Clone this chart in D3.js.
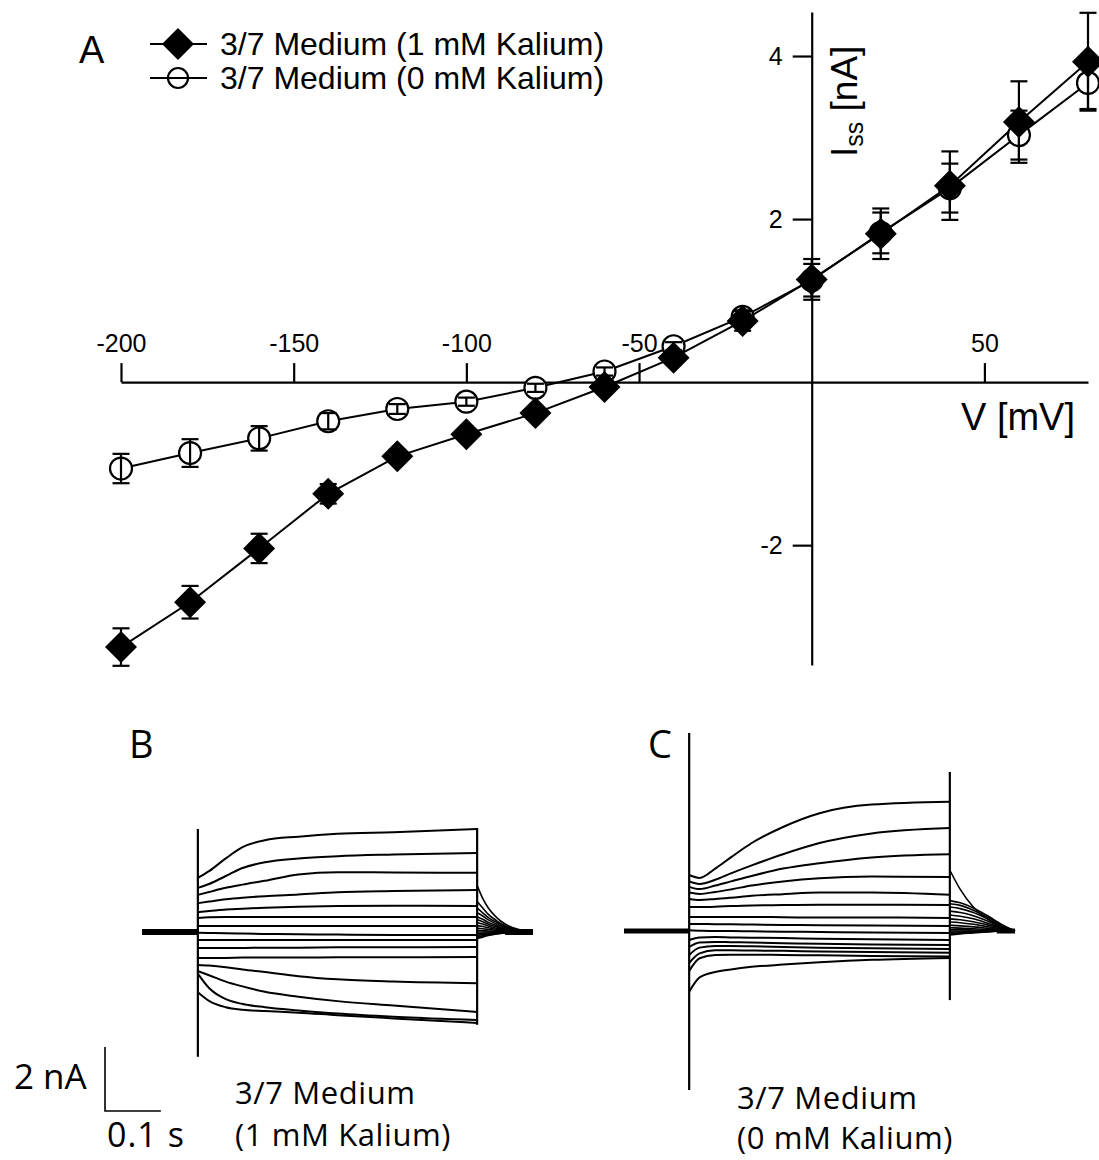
<!DOCTYPE html>
<html>
<head>
<meta charset="utf-8">
<script src="https://cdn.jsdelivr.net/npm/d3@7"></script>
<style>
  body { margin: 0; background: #fff; }
  svg { display: block; }
</style>
</head>
<body>
<svg width="1099" height="1160"></svg>
<script>
// ---- panel A: steady state I/V ----
const voltages = [-200, -180, -160, -140, -120, -100, -80, -60, -40, -20, 0, 20, 40, 60, 80];
const iss1mM = [-3.25, -2.70, -2.04, -1.37, -0.91, -0.64, -0.38, -0.06, 0.30, 0.75, 1.26, 1.82, 2.41, 3.19, 3.93];
const err1mM = [0.23, 0.20, 0.18, 0.12, 0.08, 0.06, 0.06, 0.06, 0.08, 0.12, 0.25, 0.31, 0.42, 0.50, 0.60];
const iss0mM = [-1.06, -0.87, -0.69, -0.48, -0.33, -0.24, -0.07, 0.13, 0.44, 0.80, 1.25, 1.83, 2.38, 3.03, 3.67];
const err0mM = [0.18, 0.17, 0.15, 0.10, 0.06, 0.05, 0.05, 0.05, 0.05, 0.08, 0.20, 0.25, 0.30, 0.30, 0.32];
const xTicksA = [-200, -150, -100, -50, 50];
const yTicksA = [-2, 2, 4];
const legendLabels = ["3/7 Medium (1 mM Kalium)", "3/7 Medium (0 mM Kalium)"];

// ---- panels B and C: current traces (nA) ----
const pulseT = [0, 0.02, 0.05, 0.08, 0.12, 0.18, 0.25, 0.35, 0.5];
const tracesB = [
  [1.69, 1.90, 2.30, 2.65, 2.87, 2.98, 3.07, 3.12, 3.22],
  [1.38, 1.50, 1.75, 2.00, 2.18, 2.30, 2.37, 2.42, 2.47],
  [1.16, 1.25, 1.38, 1.48, 1.60, 1.80, 1.87, 1.86, 1.85],
  [0.90, 0.95, 1.02, 1.07, 1.12, 1.17, 1.24, 1.28, 1.31],
  [0.62, 0.66, 0.70, 0.73, 0.76, 0.79, 0.81, 0.82, 0.81],
  [0.44, 0.46, 0.47, 0.47, 0.47, 0.47, 0.47, 0.47, 0.47],
  [0.19, 0.19, 0.19, 0.19, 0.19, 0.19, 0.19, 0.19, 0.19],
  [-0.02, -0.03, -0.04, -0.05, -0.06, -0.07, -0.08, -0.09, -0.09],
  [-0.25, -0.25, -0.25, -0.25, -0.25, -0.25, -0.25, -0.25, -0.25],
  [-0.50, -0.50, -0.50, -0.50, -0.49, -0.49, -0.48, -0.48, -0.47],
  [-0.81, -0.81, -0.81, -0.80, -0.80, -0.80, -0.79, -0.79, -0.78],
  [-1.03, -1.05, -1.10, -1.17, -1.25, -1.38, -1.48, -1.55, -1.60],
  [-1.22, -1.35, -1.55, -1.70, -1.87, -2.02, -2.16, -2.30, -2.50],
  [-1.30, -1.75, -2.10, -2.25, -2.35, -2.45, -2.55, -2.65, -2.75],
  [-1.88, -2.15, -2.35, -2.43, -2.47, -2.52, -2.60, -2.70, -2.84]
];
const tailTB = [0.5, 0.51, 0.52, 0.535, 0.55, 0.575, 0.6];
const tailsB = [
  [1.45, 1.05, 0.75, 0.45, 0.25, 0.08, 0],
  [0.95, 0.75, 0.55, 0.35, 0.20, 0.06, 0],
  [0.75, 0.60, 0.45, 0.30, 0.17, 0.05, 0],
  [0.60, 0.50, 0.38, 0.25, 0.14, 0.04, 0],
  [0.48, 0.40, 0.30, 0.20, 0.11, 0.03, 0],
  [0.38, 0.32, 0.24, 0.16, 0.09, 0.03, 0],
  [0.30, 0.25, 0.19, 0.12, 0.07, 0.02, 0],
  [0.20, 0.17, 0.13, 0.08, 0.05, 0.01, 0],
  [0.12, 0.10, 0.08, 0.05, 0.03, 0.01, 0],
  [0.05, 0.04, 0.03, 0.02, 0.01, 0, 0],
  [0, 0, 0, 0, 0, 0, 0],
  [-0.05, -0.04, -0.03, -0.02, -0.01, 0, 0],
  [-0.10, -0.08, -0.06, -0.04, -0.02, 0, 0],
  [-0.15, -0.12, -0.09, -0.05, -0.03, 0, 0],
  [-0.20, -0.16, -0.11, -0.06, -0.03, 0, 0]
];
const spikesB = [[0, 3.22, -3.9], [0.5, 3.25, -2.9]];
const baseSegB = [[-0.1, 0], [0.55, 0.6]];

const tracesC = [
  [1.75, 1.66, 1.95, 2.30, 2.75, 3.25, 3.68, 3.95, 4.04],
  [1.55, 1.47, 1.60, 1.80, 2.05, 2.40, 2.75, 3.05, 3.22],
  [1.38, 1.31, 1.42, 1.55, 1.72, 1.95, 2.12, 2.30, 2.40],
  [1.20, 1.16, 1.22, 1.30, 1.42, 1.55, 1.65, 1.70, 1.69],
  [1.00, 0.97, 1.00, 1.04, 1.10, 1.15, 1.20, 1.20, 1.13],
  [0.75, 0.75, 0.76, 0.78, 0.80, 0.81, 0.82, 0.82, 0.81],
  [0.44, 0.44, 0.44, 0.44, 0.44, 0.43, 0.42, 0.42, 0.41],
  [0.22, 0.22, 0.21, 0.21, 0.20, 0.19, 0.18, 0.17, 0.16],
  [0.02, 0.01, 0.00, 0.00, -0.01, -0.02, -0.03, -0.05, -0.06],
  [-0.28, -0.20, -0.19, -0.20, -0.21, -0.22, -0.24, -0.26, -0.28],
  [-0.50, -0.36, -0.34, -0.35, -0.36, -0.38, -0.40, -0.42, -0.44],
  [-0.75, -0.52, -0.47, -0.47, -0.48, -0.50, -0.52, -0.54, -0.56],
  [-1.00, -0.70, -0.60, -0.60, -0.61, -0.62, -0.64, -0.66, -0.68],
  [-1.25, -0.85, -0.75, -0.74, -0.74, -0.75, -0.76, -0.78, -0.80],
  [-1.90, -1.45, -1.28, -1.20, -1.12, -1.05, -0.98, -0.90, -0.84]
];
const tailTC = [0.5, 0.52, 0.545, 0.57, 0.6, 0.625];
const tailsC = [
  [1.90, 1.30, 0.75, 0.40, 0.12, 0],
  [0.95, 0.88, 0.72, 0.50, 0.20, 0],
  [0.85, 0.80, 0.65, 0.45, 0.18, 0],
  [0.75, 0.70, 0.58, 0.40, 0.15, 0],
  [0.62, 0.58, 0.48, 0.33, 0.12, 0],
  [0.50, 0.46, 0.38, 0.26, 0.10, 0],
  [0.38, 0.35, 0.29, 0.20, 0.08, 0],
  [0.28, 0.26, 0.21, 0.14, 0.06, 0],
  [0.18, 0.16, 0.13, 0.09, 0.04, 0],
  [0.10, 0.09, 0.07, 0.05, 0.02, 0],
  [0.04, 0.04, 0.03, 0.02, 0.01, 0],
  [0, 0, 0, 0, 0, 0],
  [-0.04, -0.03, -0.02, -0.01, 0, 0],
  [-0.08, -0.06, -0.04, -0.02, 0, 0],
  [-0.12, -0.09, -0.06, -0.03, 0, 0]
];
const spikesC = [[0, 6.19, -4.97], [0.5, 4.97, -2.16]];
const baseSegC = [[-0.125, 0], [0.59, 0.625]];

const scaleBar = { nA: 2, s: 0.1 };

const svg = d3.select("svg");
const fontA = "'Liberation Sans', Arial, sans-serif";
const fontB = "'Open Sans', sans-serif";

// ================= panel A =================
const x = d3.scaleLinear().domain([-200, 80]).range([121, 1088]);
const y = d3.scaleLinear().domain([-3.47, 4.54]).range([665, 12]);
const gA = svg.append("g");

const xAx = gA.append("g")
  .attr("transform", "translate(0," + y(0) + ")")
  .call(d3.axisTop(x).tickValues(xTicksA).tickSize(19).tickSizeOuter(0).tickPadding(11).tickFormat(d => String(d)));
const yAx = gA.append("g")
  .attr("transform", "translate(" + x(0) + ",0)")
  .call(d3.axisLeft(y).tickValues(yTicksA).tickSize(19).tickSizeOuter(0).tickPadding(10).tickFormat(d => String(d)));
[xAx, yAx].forEach(ax => {
  ax.selectAll("path, line").attr("stroke", "#000").attr("stroke-width", 2.2);
  ax.selectAll("text").attr("font-family", fontA).attr("font-size", 25).attr("fill", "#000");
});

gA.append("text").attr("x", 961).attr("y", 430)
  .attr("font-family", fontA).attr("font-size", 38).text("V [mV]");
const yl = gA.append("text").attr("transform", "translate(857,157) rotate(-90)")
  .attr("font-family", fontA).attr("font-size", 37);
yl.append("tspan").text("I");
yl.append("tspan").attr("dy", 6).attr("font-size", 25).text("ss");
yl.append("tspan").attr("dy", -6).text(" [nA]");

const lineA = d3.line().x((d, i) => x(voltages[i])).y(d => y(d));
gA.append("path").datum(iss0mM).attr("d", lineA)
  .attr("fill", "none").attr("stroke", "#000").attr("stroke-width", 2);
gA.append("path").datum(iss1mM).attr("d", lineA)
  .attr("fill", "none").attr("stroke", "#000").attr("stroke-width", 2);

const diamond = d3.symbol(d3.symbolSquare, 512);
const cap = 8.5;

function errorBars(g, vals, errs) {
  const eb = g.append("g").attr("stroke", "#000").attr("stroke-width", 2.2);
  vals.forEach((v, i) => {
    const cx = x(voltages[i]);
    eb.append("line").attr("x1", cx).attr("x2", cx).attr("y1", y(v - errs[i])).attr("y2", y(v + errs[i]));
    eb.append("line").attr("x1", cx - cap).attr("x2", cx + cap).attr("y1", y(v - errs[i])).attr("y2", y(v - errs[i]));
    eb.append("line").attr("x1", cx - cap).attr("x2", cx + cap).attr("y1", y(v + errs[i])).attr("y2", y(v + errs[i]));
  });
}

// open circles (0 mM)
gA.append("g").selectAll("circle").data(iss0mM).join("circle")
  .attr("cx", (d, i) => x(voltages[i])).attr("cy", d => y(d)).attr("r", 11)
  .attr("fill", "#fff").attr("stroke", "#000").attr("stroke-width", 2.2);
errorBars(gA, iss0mM, err0mM);

// filled diamonds (1 mM)
errorBars(gA, iss1mM, err1mM);
gA.append("g").selectAll("path").data(iss1mM).join("path")
  .attr("d", diamond)
  .attr("transform", (d, i) => "translate(" + x(voltages[i]) + "," + y(d) + ") rotate(45)")
  .attr("fill", "#000");

// legend
gA.append("text").attr("x", 79).attr("y", 63).attr("font-family", fontA).attr("font-size", 38).text("A");
const lg = gA.append("g").attr("transform", "translate(150,44)");
legendLabels.forEach((lab, i) => {
  const r = lg.append("g").attr("transform", "translate(0," + i * 34 + ")");
  r.append("line").attr("x1", 0).attr("x2", 57).attr("stroke", "#000").attr("stroke-width", 2);
  if (i === 0) {
    r.append("path").attr("d", diamond).attr("transform", "translate(28,0) rotate(45)").attr("fill", "#000");
  } else {
    r.append("circle").attr("cx", 28).attr("r", 10).attr("fill", "none").attr("stroke", "#000").attr("stroke-width", 2.2);
  }
  r.append("text").attr("x", 70).attr("y", 11).attr("font-family", fontA).attr("font-size", 32).text(lab);
});

// ================= panels B and C =================
function tracePanel(xs, ys, traces, tailT, tails, spikes, baseSeg, baseW) {
  const g = svg.append("g").attr("fill", "none").attr("stroke", "#000");
  const ln = d3.line().curve(d3.curveMonotoneX).x(d => xs(d[0])).y(d => ys(d[1]));
  traces.forEach(tr => {
    g.append("path").attr("d", ln(pulseT.map((t, i) => [t, tr[i]]))).attr("stroke-width", 2);
  });
  tails.forEach(tl => {
    g.append("path").attr("d", ln(tailT.map((t, i) => [t, tl[i]]))).attr("stroke-width", 1.6);
  });
  baseSeg.forEach(s => {
    g.append("line").attr("x1", xs(s[0])).attr("x2", xs(s[1])).attr("y1", ys(0)).attr("y2", ys(0))
      .attr("stroke-width", baseW);
  });
  spikes.forEach(s => {
    g.append("line").attr("x1", xs(s[0])).attr("x2", xs(s[0])).attr("y1", ys(s[1])).attr("y2", ys(s[2]))
      .attr("stroke-width", 2.2);
  });
}

const xB = d3.scaleLinear().domain([-0.1, 0.6]).range([142, 533]);
const yB = d3.scaleLinear().domain([0, 1]).range([932, 900]);
tracePanel(xB, yB, tracesB, tailTB, tailsB, spikesB, baseSegB, 6);

const xC = d3.scaleLinear().domain([-0.125, 0.625]).range([624, 1015]);
const yC = d3.scaleLinear().domain([0, 1]).range([931, 899]);
tracePanel(xC, yC, tracesC, tailTC, tailsC, spikesC, baseSegC, 5);

// scale bar (uses panel B scales)
const sbx = 105, sby = 1111;
const sbH = yB(0) - yB(scaleBar.nA), sbW = xB(scaleBar.s) - xB(0);
svg.append("path").attr("d", "M" + sbx + "," + (sby - sbH) + "V" + sby + "H" + (sbx + sbW))
  .attr("fill", "none").attr("stroke", "#000").attr("stroke-width", 1.6);

const txt = (tx, ty, s, size, ls) => svg.append("text").attr("x", tx).attr("y", ty)
  .attr("font-family", fontB).attr("font-size", size).attr("letter-spacing", ls || 0)
  .attr("fill", "#000").text(s);
txt(129, 758, "B", 38);
txt(648, 758, "C", 38);
txt(14, 1089, "2 nA", 35);
txt(107, 1147, "0.1 s", 34, 1);
txt(235, 1104, "3/7 Medium", 31, 0.6);
txt(235, 1146, "(1 mM Kalium)", 31, 0.6);
txt(737, 1109, "3/7 Medium", 31, 0.6);
txt(737, 1149, "(0 mM Kalium)", 31, 0.6);
</script>
</body>
</html>
